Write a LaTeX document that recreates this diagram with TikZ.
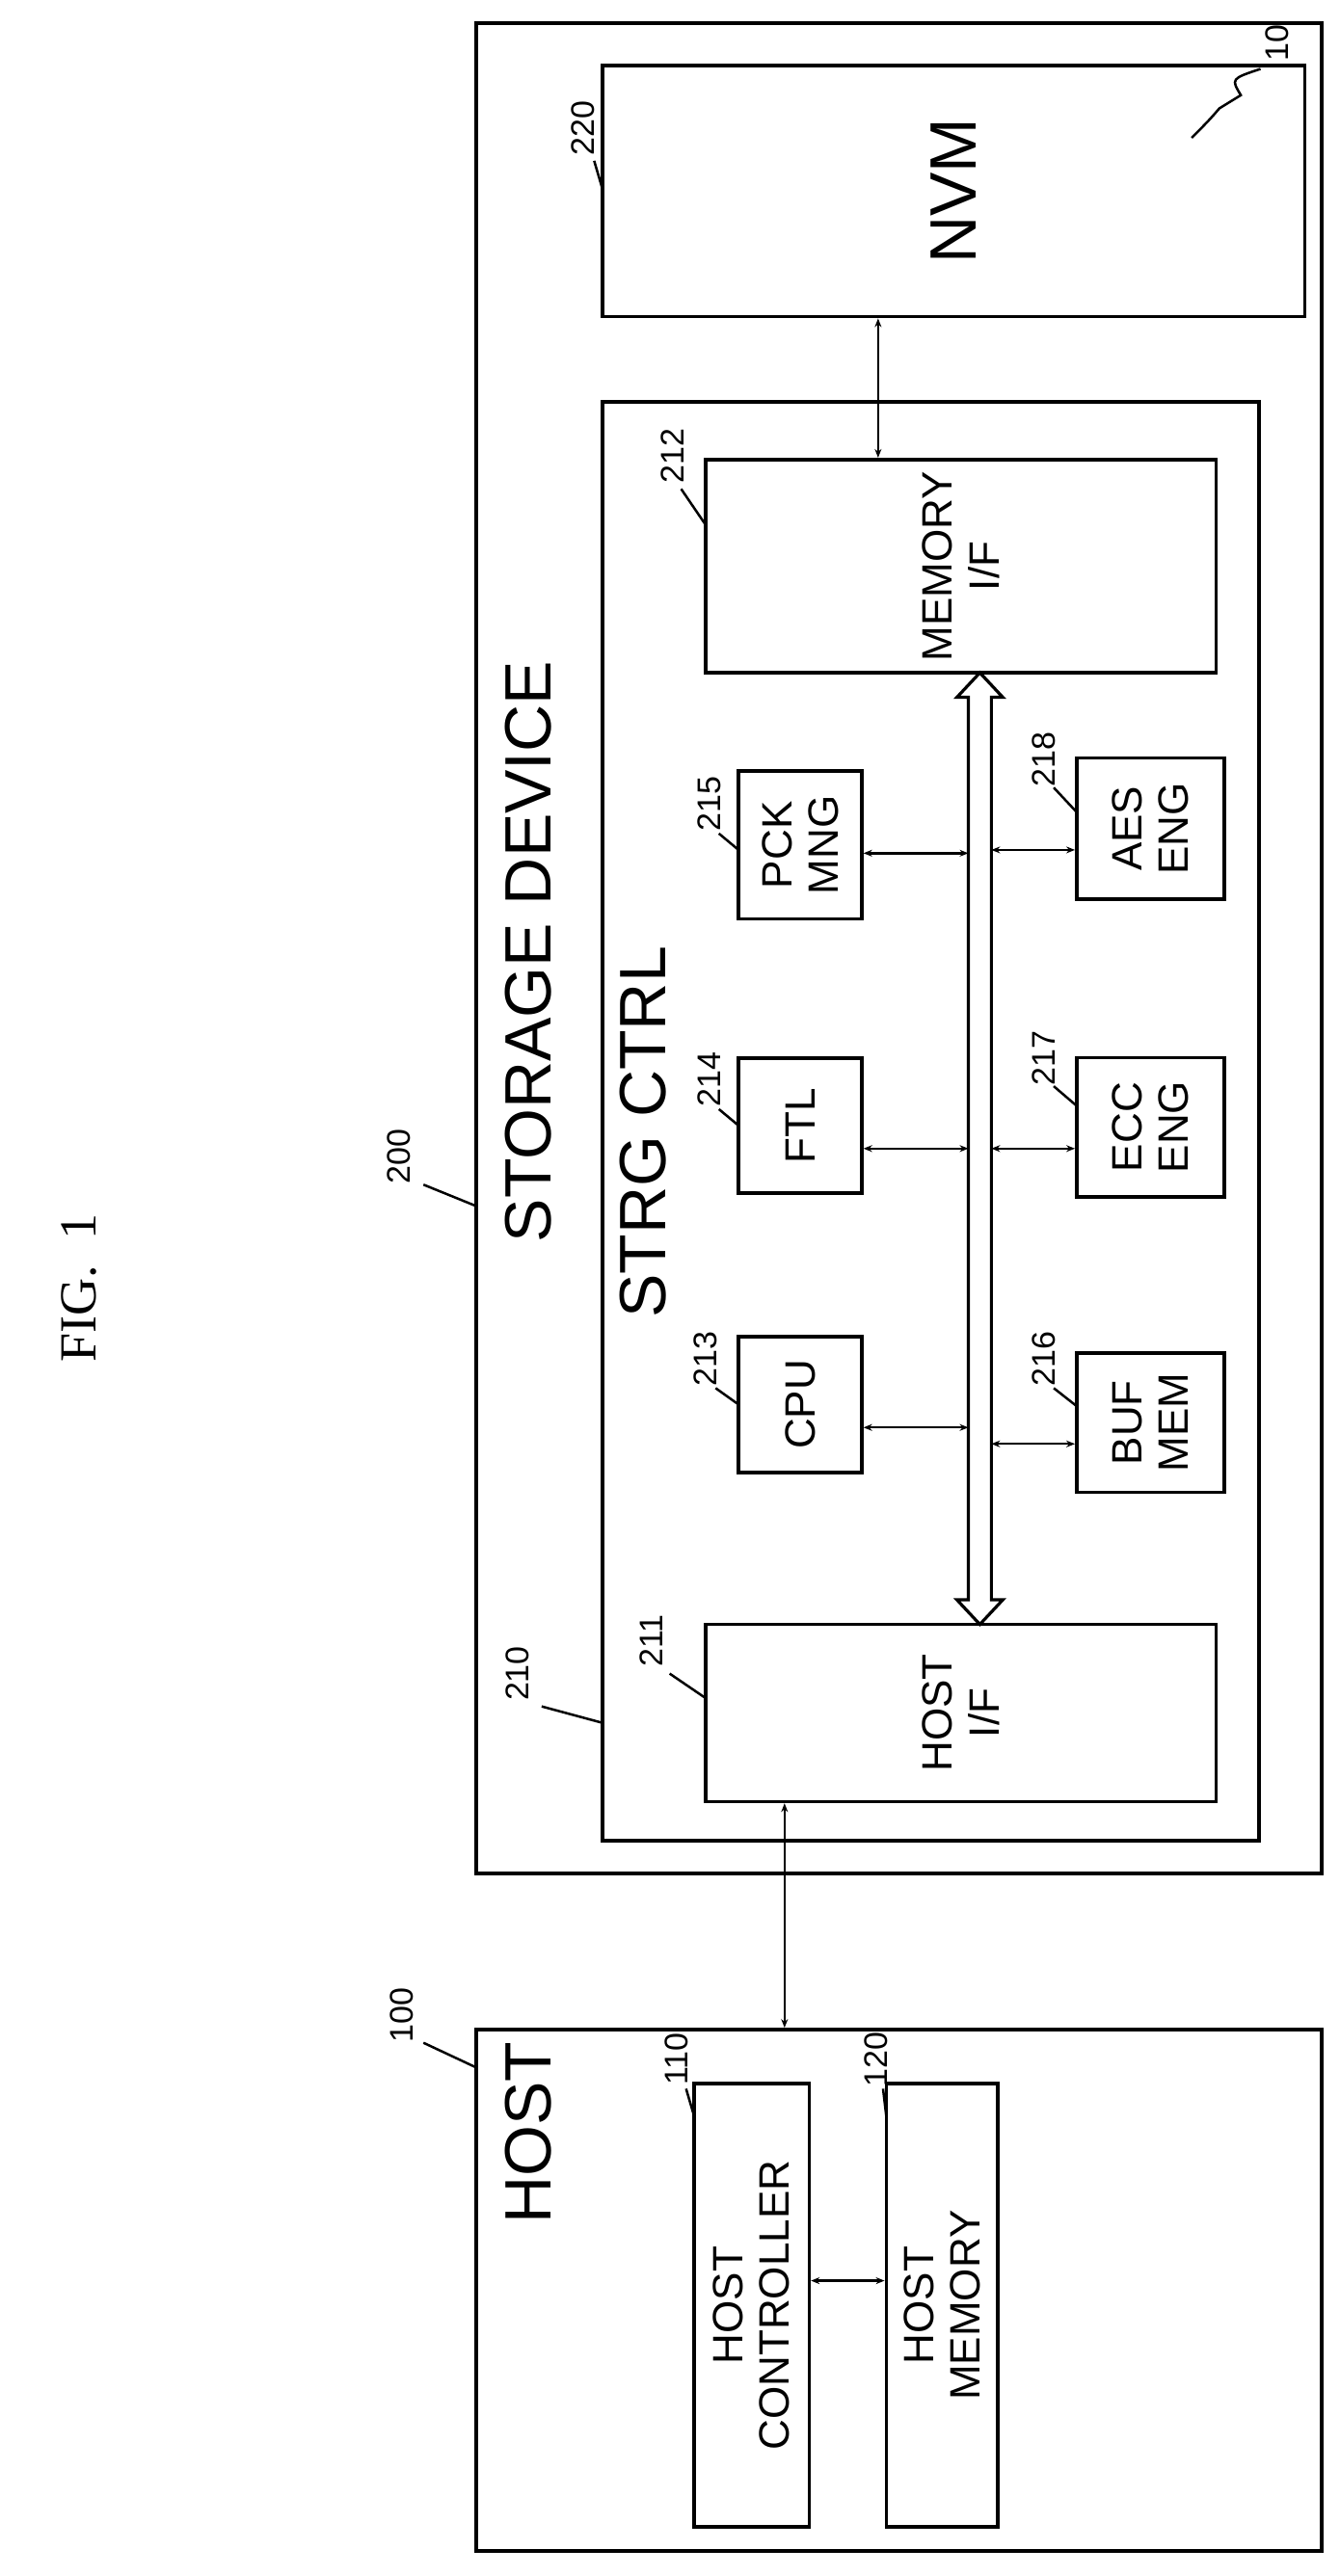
\documentclass[tikz,border=0pt]{standalone}
\usepackage{fontspec}
\setmainfont{Liberation Sans}
\newfontfamily\figfont{Liberation Serif}
\usetikzlibrary{arrows.meta}
\begin{document}
\begin{tikzpicture}[x=1.702pt,y=-1.702pt,
  box/.style={draw,line width=4pt},
  thin box/.style={draw,line width=3.6pt},
  big/.style={rotate=90,font=\fontsize{68}{74}\selectfont},
  mid/.style={rotate=90,font=\fontsize{44}{48}\selectfont,align=center},
  lab/.style={rotate=90,font=\fontsize{34}{36}\selectfont,inner sep=1pt},
  lead/.style={line width=2.5pt},
  link/.style={line width=2.4pt,{Stealth[length=9pt,width=7pt]}-{Stealth[length=9pt,width=7pt]}}]
\useasboundingbox (0,0) rectangle (816,1570);
% outer boxes
\node[box,minimum width=515*1.702pt,minimum height=1128*1.702pt,inner sep=0] (sd) at (547.5,578) {};
\node[box,minimum width=515*1.702pt,minimum height=318*1.702pt,inner sep=0] (host) at (547.5,1396) {};
\node[thin box,minimum width=428*1.702pt,minimum height=153*1.702pt,inner sep=0] (nvm) at (581,116.5) {};
\node[thin box,minimum width=400*1.702pt,minimum height=877*1.702pt,inner sep=0] (ctrl) at (567,683.5) {};
\node[thin box,minimum width=311*1.702pt,minimum height=130*1.702pt,inner sep=0] (mif) at (585.5,345) {};
\node[thin box,minimum width=311*1.702pt,minimum height=108*1.702pt,inner sep=0] (hif) at (585.5,1044) {};
\node[thin box,minimum width=75*1.702pt,minimum height=83*1.702pt,inner sep=0] (cpu) at (487.5,856) {};
\node[thin box,minimum width=75*1.702pt,minimum height=82*1.702pt,inner sep=0] (ftl) at (487.5,686) {};
\node[thin box,minimum width=75*1.702pt,minimum height=90*1.702pt,inner sep=0] (pck) at (487.5,515) {};
\node[thin box,minimum width=90*1.702pt,minimum height=85*1.702pt,inner sep=0] (buf) at (701,867) {};
\node[thin box,minimum width=90*1.702pt,minimum height=85*1.702pt,inner sep=0] (ecc) at (701,687) {};
\node[thin box,minimum width=90*1.702pt,minimum height=86*1.702pt,inner sep=0] (aes) at (701,505) {};
\node[thin box,minimum width=70*1.702pt,minimum height=270*1.702pt,inner sep=0] (hc) at (458,1405) {};
\node[thin box,minimum width=68*1.702pt,minimum height=270*1.702pt,inner sep=0] (hm) at (574,1405) {};
% texts
\node[big] (tsd) at (322,580) {STORAGE DEVICE};
\node[big] (tctrl) at (392,690) {STRG CTRL};
\node[big] (thost) at (322,1300) {HOST};
\node[rotate=90,font=\figfont\fontsize{54}{58}\selectfont] (fig) at (48,785) {FIG.\ \ 1};
\node[big] at (nvm) {NVM};
\node[mid] at (mif) {MEMORY\\I/F};
\node[mid] at (hif) {HOST\\I/F};
\node[mid] at (cpu) {CPU};
\node[mid] at (ftl) {FTL};
\node[mid] at (pck) {PCK\\MNG};
\node[mid] at (buf) {BUF\\MEM};
\node[mid] at (ecc) {ECC\\ENG};
\node[mid] at (aes) {AES\\ENG};
\node[mid] at (hc) {HOST\\CONTROLLER};
\node[mid] at (hm) {HOST\\MEMORY};
% bus
\draw[line width=3.2pt,fill=white] (597,410) -- (611,425) -- (604,425) -- (604,975) -- (611,975) -- (597,990) -- (583,975) -- (590,975) -- (590,425) -- (583,425) -- cycle;
% links
\coordinate (bcpu) at (590,870); \coordinate (bbuf) at (604,880);
\coordinate (bftl) at (590,700); \coordinate (becc) at (604,700);
\coordinate (bpck) at (590,520); \coordinate (baes) at (604,518);
\draw[link] (cpu.east |- bcpu) -- (bcpu);
\draw[link] (bbuf) -- (buf.west |- bbuf);
\draw[link] (ftl.east |- bftl) -- (bftl);
\draw[link] (becc) -- (ecc.west |- becc);
\draw[link] (pck.east |- bpck) -- (bpck);
\draw[link] (baes) -- (aes.west |- baes);
\draw[link] (nvm.south -| 535,0) -- (mif.north -| 535,0);
\draw[link] (hif.south -| 478,0) -- (host.north -| 478,0);
\draw[link] (hc.east |- 0,1390) -- (hm.west |- 0,1390);
% reference labels
\node[lab] (l200) at (243,705) {200}; \draw[lead] (258,722) -- (290,735);
\node[lab] (l210) at (315,1020) {210}; \draw[lead] (330,1040) -- (367,1050);
\node[lab] (l211) at (397,1000) {211}; \draw[lead] (408,1020) -- (430,1035);
\node[lab] (l212) at (410,278) {212}; \draw[lead] (415,298) -- (430,320);
\node[lab] (l220) at (355,78) {220}; \draw[lead] (362,98) -- (367,115);
\node[lab] (l213) at (430,828) {213}; \draw[lead] (436,846) -- (450,856);
\node[lab] (l214) at (432,658) {214}; \draw[lead] (438,676) -- (450,686);
\node[lab] (l215) at (432,490) {215}; \draw[lead] (438,508) -- (450,518);
\node[lab] (l216) at (636,828) {216}; \draw[lead] (642,846) -- (656,857);
\node[lab] (l217) at (636,645) {217}; \draw[lead] (642,662) -- (656,674);
\node[lab] (l218) at (636,463) {218}; \draw[lead] (642,480) -- (656,495);
\node[lab] (l100) at (245,1228) {100}; \draw[lead] (258,1245) -- (290,1260);
\node[lab] (l110) at (412,1255) {110}; \draw[lead] (418,1273) -- (423,1290);
\node[lab] (l120) at (534,1255) {120}; \draw[lead] (538,1273) -- (540,1290);
\node[lab] (t10) at (778,26) {10};
\draw[lead] (768,42) .. controls (750,48) .. (756,58) -- (743,66) .. controls (736,74) .. (726,84);
\end{tikzpicture}
\end{document}
